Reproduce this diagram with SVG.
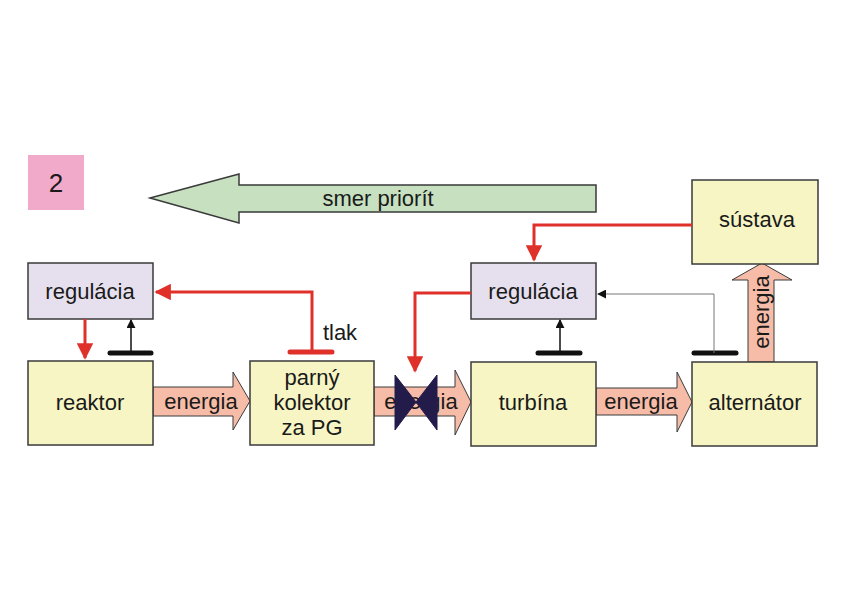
<svg xmlns="http://www.w3.org/2000/svg" width="850" height="600" viewBox="0 0 850 600">
<defs>
<style>
.box{fill:#f7f5c4;stroke:#3a3a3a;stroke-width:1.5}
.reg{fill:#e6e0ee;stroke:#3a3a3a;stroke-width:1.5}
.t{font-family:"Liberation Sans","Open Sans",sans-serif;font-size:22px;fill:#1a1a1a;text-anchor:middle}
.en{fill:#f6bca8;stroke:#3a3a3a;stroke-width:1}
.red{fill:none;stroke:#e0302a;stroke-width:3}
.blk{fill:none;stroke:#111;stroke-width:1.5}
.bar{stroke:#111;stroke-width:5;stroke-linecap:round}
</style>
<marker id="rh" viewBox="0 0 10 10" refX="9" refY="5" markerWidth="5.5" markerHeight="5.5" orient="auto" markerUnits="strokeWidth"><path d="M0,0 L10,5 L0,10 z" fill="#e0302a"/></marker>
<marker id="bh" viewBox="0 0 10 10" refX="9" refY="5" markerWidth="9" markerHeight="9" orient="auto" markerUnits="userSpaceOnUse"><path d="M0,0 L10,5 L0,10 z" fill="#111"/></marker>
</defs>
<rect width="850" height="600" fill="#fff"/>
<g id="label2"><rect x="28" y="155" width="56" height="55" fill="#f2aaca"/><text class="t" x="56" y="192" style="font-size:26px">2</text></g>
<g id="priority"><path d="M150,198 L239,174 L239,185 L596,185 L596,212 L239,212 L239,223 Z" fill="#c6e0c0" stroke="#3a3a3a" stroke-width="1.5"/><text class="t" x="378" y="206">smer priorít</text></g>
<g id="energy-arrows">
<path class="en" d="M153,387 L233,387 L233,372 L250,401 L233,430 L233,416 L153,416 Z"/>
<text class="t" x="201" y="409">energia</text>
<path class="en" d="M374,387 L455,387 L455,370 L471,402 L455,435 L455,416 L374,416 Z"/>
<text class="t" x="421" y="409">energia</text>
<path class="en" d="M596,388 L677,388 L677,372 L692,402 L677,432 L677,415 L596,415 Z"/>
<text class="t" x="641" y="409">energia</text>
<path class="en" d="M748,362 L748,280 L732,280 L762,263 L792,280 L774,280 L774,362 Z"/>
<text class="t" transform="translate(769,312) rotate(-90)">energia</text>
</g>
<g id="reg1"><rect class="reg" x="28" y="263" width="125" height="56"/><text class="t" x="90" y="299">regulácia</text></g>
<g id="reg2"><rect class="reg" x="471" y="263" width="125" height="56"/><text class="t" x="533" y="299">regulácia</text></g>
<g id="reaktor"><rect class="box" x="28" y="361" width="125" height="84"/><text class="t" x="90" y="410">reaktor</text></g>
<g id="kolektor"><rect class="box" x="250" y="361" width="124" height="84"/><text class="t" x="312" y="385">parný</text><text class="t" x="312" y="410">kolektor</text><text class="t" x="312" y="435">za PG</text></g>
<g id="turbina"><rect class="box" x="471" y="362" width="125" height="84"/><text class="t" x="533" y="410">turbína</text></g>
<g id="alternator"><rect class="box" x="692" y="362" width="125" height="84"/><text class="t" x="755" y="410">alternátor</text></g>
<g id="sustava"><rect class="box" x="692" y="180" width="126" height="84"/><text class="t" x="757" y="227">sústava</text></g>
<g id="valve"><path d="M395,375 L416,402 L395,430 Z M437,375 L416,402 L437,430 Z" fill="#231c4b" stroke="#231c4b" stroke-width="1"/></g>
<g id="connectors">
<polyline class="red" points="312,352 312,292 156,292" marker-end="url(#rh)"/>
<line class="red" x1="290" y1="352" x2="332" y2="352" stroke-linecap="round" style="stroke-width:5"/>
<text class="t" x="340" y="340">tlak</text>
<line class="red" x1="85" y1="319" x2="85" y2="358" marker-end="url(#rh)"/>
<line class="bar" x1="110" y1="353" x2="151" y2="353"/>
<line class="blk" x1="131" y1="353" x2="131" y2="320" marker-end="url(#bh)"/>
<polyline class="red" points="692,225 534,225 534,260" marker-end="url(#rh)"/>
<polyline class="red" points="471,293 415,293 415,371" marker-end="url(#rh)"/>
<line class="bar" x1="538" y1="353" x2="580" y2="353"/>
<line class="blk" x1="560" y1="353" x2="560" y2="320" marker-end="url(#bh)"/>
<line class="bar" x1="694" y1="353" x2="736" y2="353"/>
<polyline points="714,353 714,294 598,294" fill="none" stroke="#777" stroke-width="1" marker-end="url(#bh)"/>
</g>
</svg>
